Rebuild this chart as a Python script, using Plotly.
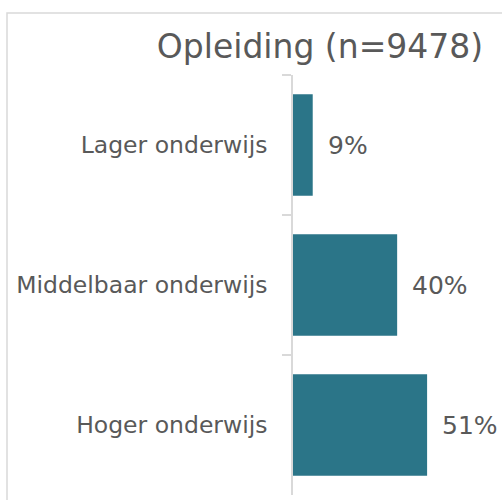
"""Horizontal bar chart: Opleiding (n=9478)."""

import plotly.graph_objects as go

# data
categories = ["Lager onderwijs", "Middelbaar onderwijs", "Hoger onderwijs"]
shares = [9, 40, 51]
title_text = "Opleiding (n=9478)"

BAR_COLOR = "#2B7588"
TEXT_COLOR = "#595959"
LINE_COLOR = "#D9D9D9"
FONT = "DejaVu Sans, Verdana, sans-serif"

W, H = 502, 500
M_L, M_R, M_T, M_B = 293, 0, 75, 5
plot_w = W - M_L - M_R
plot_h = H - M_T - M_B


def px_to_paper_x(p):
    return (p - M_L) / plot_w


def px_to_paper_y(p):
    return (H - M_B - p) / plot_h


fig = go.Figure(
    go.Bar(
        x=shares,
        y=categories,
        orientation="h",
        marker_color=BAR_COLOR,
        marker_line_width=0,
        hovertemplate="%{y}: %{x}%<extra></extra>",
    )
)

# value labels right of each bar
for cat, val in zip(categories, shares):
    fig.add_annotation(
        x=val,
        y=cat,
        text=f"{val}%",
        showarrow=False,
        xanchor="left",
        xshift=13,
        font={"size": 25, "color": TEXT_COLOR, "family": FONT},
    )

# outer chart frame (cropped on right and bottom)
fig.add_shape(
    type="rect",
    xref="paper",
    yref="paper",
    x0=px_to_paper_x(7),
    x1=px_to_paper_x(W + 20),
    y0=px_to_paper_y(H + 20),
    y1=px_to_paper_y(13),
    line={"color": LINE_COLOR, "width": 1.5},
    layer="below",
)

fig.update_layout(
    width=W,
    height=H,
    margin={"l": M_L, "r": M_R, "t": M_T, "b": M_B},
    paper_bgcolor="white",
    plot_bgcolor="white",
    bargap=0.275,
    showlegend=False,
    font={"family": FONT, "color": TEXT_COLOR},
    title={
        "text": title_text,
        "x": 320 / W,
        "xanchor": "center",
        "xref": "container",
        "y": 1 - 46 / H,
        "yanchor": "middle",
        "yref": "container",
        "font": {"size": 33, "color": TEXT_COLOR, "family": FONT},
    },
)
fig.update_xaxes(
    range=[1.76, 78.5],
    visible=False,
    showgrid=False,
    zeroline=False,
)
fig.update_yaxes(
    autorange="reversed",
    showline=True,
    linecolor=LINE_COLOR,
    linewidth=1.5,
    ticks="outside",
    tickson="boundaries",
    ticklen=9,
    tickwidth=1.5,
    tickcolor=LINE_COLOR,
    ticklabelstandoff=19,
    tickfont={"size": 23.5, "color": TEXT_COLOR, "family": FONT},
    showgrid=False,
    zeroline=False,
)

# drop the default page margin so the figure sits at the window's corner
fig.write_html(
    "out.html",
    config={"displayModeBar": False},
    post_script="document.body.style.margin = '0';",
)
